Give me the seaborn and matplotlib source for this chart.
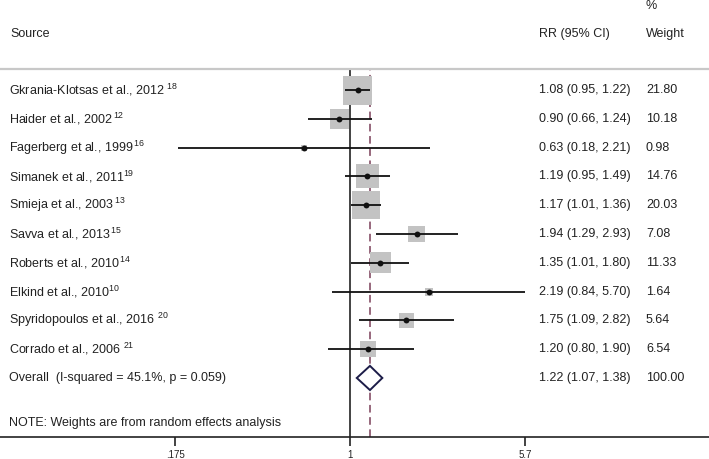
import numpy as np
import pandas as pd
import matplotlib
matplotlib.use("Agg")
import matplotlib.pyplot as plt
import seaborn as sns
from matplotlib.transforms import blended_transform_factory

# ------------------------------------------------------------
# Data
# ------------------------------------------------------------
studies = [
    "Gkrania-Klotsas et al., 2012 $^{18}$",
    "Haider et al., 2002$\\,^{12}$",
    "Fagerberg et al., 1999$\\,^{16}$",
    "Simanek et al., 2011$^{19}$",
    "Smieja et al., 2003$\\,^{13}$",
    "Savva et al., 2013$\\,^{15}$",
    "Roberts et al., 2010$\\,^{14}$",
    "Elkind et al., 2010$^{10}$",
    "Spyridopoulos et al., 2016 $^{20}$",
    "Corrado et al., 2006 $^{21}$",
]
rr = [1.08, 0.90, 0.63, 1.19, 1.17, 1.94, 1.35, 2.19, 1.75, 1.20]
ci_low = [0.95, 0.66, 0.18, 0.95, 1.01, 1.29, 1.01, 0.84, 1.09, 0.80]
ci_high = [1.22, 1.24, 2.21, 1.49, 1.36, 2.93, 1.80, 5.70, 2.82, 1.90]
weights = [21.80, 10.18, 0.98, 14.76, 20.03, 7.08, 11.33, 1.64, 5.64, 6.54]

overall_label = "Overall  (I-squared = 45.1%, p = 0.059)"
overall_rr, overall_low, overall_high = 1.22, 1.07, 1.38
overall_weight = 100.00
note_text = "NOTE: Weights are from random effects analysis"

tick_values = [0.175, 1, 5.7]
tick_labels = [".175", "1", "5.7"]

df = pd.DataFrame({
    "study": studies, "rr": rr, "lo": ci_low, "hi": ci_high, "w": weights,
})
df["row"] = np.arange(len(df))
overall_row = len(df)
note_row = overall_row + 1.55

# ------------------------------------------------------------
# Style
# ------------------------------------------------------------
sns.set_theme(style="white")
plt.rcParams["font.family"] = ["Liberation Sans", "DejaVu Sans"]
plt.rcParams["mathtext.fontset"] = "custom"
plt.rcParams["mathtext.rm"] = "Liberation Sans"
plt.rcParams["mathtext.it"] = "Liberation Sans"
plt.rcParams["mathtext.default"] = "regular"

TXT = "#222222"
FS = 9
W, H = 709, 459

fig = plt.figure(figsize=(W / 100, H / 100), dpi=100)
ax = fig.add_axes([0, (H - 437) / H, 1, (437 - 69) / H])

# log scale: 1 sits at x=350px, ~100.4 px per log unit
ax.set_xscale("log")
ax.set_xlim(np.exp((0 - 350) / 100.4), np.exp((W - 350) / 100.4))
ax.set_ylim(12.05, -0.73)

# reference lines
ax.axvline(1, color="#222222", lw=1.2, zorder=1)
ax.axvline(overall_rr, color="#7b3f58", lw=1.1, ls=(0, (5, 3)), zorder=1)

# weight boxes (area proportional to weight)
sns.scatterplot(data=df, x="rr", y="row", size="w", sizes=(0, 2000),
                size_norm=(0, 100), marker="s", color="#c3c3c3",
                linewidth=0, legend=False, zorder=2, ax=ax)

# confidence intervals + point estimates
ax.hlines(df["row"], df["lo"], df["hi"], color="#111111", lw=1.3, zorder=3)
sns.scatterplot(data=df, x="rr", y="row", color="#111111", s=18,
                linewidth=0, legend=False, zorder=4, ax=ax)

# overall diamond
dh = 0.42
ax.fill([overall_low, overall_rr, overall_high, overall_rr],
        [overall_row, overall_row - dh, overall_row, overall_row + dh],
        facecolor="white", edgecolor="#1c1c48", lw=1.4, zorder=4)

# axes cosmetics
for side in ["left", "right"]:
    ax.spines[side].set_visible(False)
ax.spines["top"].set_color("#c8c8c8")
ax.spines["top"].set_linewidth(1.6)
ax.spines["bottom"].set_color("#222222")
ax.spines["bottom"].set_linewidth(1.2)
ax.set_xticks(tick_values)
ax.set_xticklabels(tick_labels)
ax.xaxis.set_minor_locator(plt.NullLocator())
ax.tick_params(axis="x", bottom=True, direction="out", length=6.5, width=1.2,
               color="#222222", labelsize=7, labelcolor=TXT, pad=2.5)
ax.set_yticks([])
ax.set_xlabel("")
ax.set_ylabel("")

# text columns
tr = blended_transform_factory(ax.transAxes, ax.transData)
for _, r in df.iterrows():
    ax.text(9 / W, r["row"], r["study"], transform=tr, ha="left", va="center",
            fontsize=FS, color=TXT)
    ax.text(539 / W, r["row"], f"{r['rr']:.2f} ({r['lo']:.2f}, {r['hi']:.2f})",
            transform=tr, ha="left", va="center", fontsize=FS, color=TXT)
    ax.text(646 / W, r["row"], f"{r['w']:.2f}", transform=tr, ha="left",
            va="center", fontsize=FS, color=TXT)

ax.text(9 / W, overall_row, overall_label, transform=tr, ha="left",
        va="center", fontsize=FS, color=TXT)
ax.text(539 / W, overall_row,
        f"{overall_rr:.2f} ({overall_low:.2f}, {overall_high:.2f})",
        transform=tr, ha="left", va="center", fontsize=FS, color=TXT)
ax.text(646 / W, overall_row, f"{overall_weight:.2f}", transform=tr,
        ha="left", va="center", fontsize=FS, color=TXT)
ax.text(9 / W, note_row, note_text, transform=tr, ha="left", va="center",
        fontsize=FS, color=TXT)

# header
fig.text(10 / W, 1 - 34 / H, "Source", ha="left", va="center", fontsize=FS, color=TXT)
fig.text(539 / W, 1 - 34 / H, "RR (95% CI)", ha="left", va="center", fontsize=FS, color=TXT)
fig.text(646 / W, 1 - 34 / H, "Weight", ha="left", va="center", fontsize=FS, color=TXT)
fig.text(646 / W, 1 - 6 / H, "%", ha="left", va="center", fontsize=FS, color=TXT)

fig.savefig("out.png", dpi=100, facecolor="white")
